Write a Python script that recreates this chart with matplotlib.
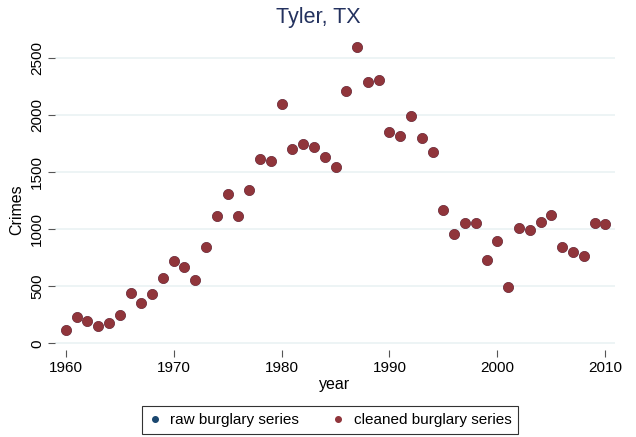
import numpy as np
import matplotlib
matplotlib.use("Agg")
import matplotlib.pyplot as plt

plt.rcParams['font.family'] = ['Liberation Sans', 'DejaVu Sans']

# burglary counts (raw series sits under the cleaned one)
years = list(range(1960, 2011))
cleaned = [119, 233, 198, 149, 180, 248, 443, 355, 429, 574,
           723, 670, 551, 843, 1114, 1304, 1117, 1344, 1613, 1598,
           2091, 1700, 1744, 1718, 1628, 1545, 2210, 2593, 2289, 2307,
           1852, 1817, 1986, 1797, 1677, 1169, 954, 1050, 1050, 729,
           898, 490, 1009, 994, 1061, 1123, 843, 799, 767, 1050,
           1044]
raw = list(cleaned)

yticks = [0, 500, 1000, 1500, 2000, 2500]
xticks = [1960, 1970, 1980, 1990, 2000, 2010]

navy = '#1a476f'
maroon = '#90353b'

fig = plt.figure(figsize=(6.36, 4.37), dpi=100)
ax = fig.add_axes([0.0865, 0.199, 0.881, 0.714])

ax.plot(years, raw, 'o', color=navy, markersize=6.7, label='raw burglary series')
ax.plot(years, cleaned, 'o', color=maroon, markersize=6.7, label='cleaned burglary series')

ax.set_xlim(1959.0, 2010.93)
ax.set_ylim(-59, 2671)
ax.set_yticks(yticks)
ax.set_xticks(xticks)
ax.set_yticklabels([str(v) for v in yticks], rotation=90, va='center', fontsize=11)
ax.set_xticklabels([str(v) for v in xticks], fontsize=11)
ax.tick_params(axis='y', length=5, color='#555555', pad=3)
ax.tick_params(axis='x', length=5, color='#555555', pad=3)

for s in ax.spines.values():
    s.set_visible(False)
ax.grid(axis='y', color='#eaf2f3', linewidth=1.2)
ax.set_axisbelow(True)

fig.text(0.5, 1 - 18 / 437, 'Tyler, TX', ha='center', va='center', fontsize=15.5, color='#24325f')
fig.text(17 / 636, 1 - 210 / 437, 'Crimes', rotation=90, ha='center', va='center', fontsize=11.5)
fig.text(335 / 636, 1 - 385 / 437, 'year', ha='center', va='center', fontsize=11.5)

leg = fig.legend(loc='center', bbox_to_anchor=(330 / 636, 1 - 420 / 437), ncol=2,
                 fontsize=11, markerscale=0.6, frameon=True, fancybox=False,
                 edgecolor='black', handlelength=0.8, handletextpad=0.6,
                 columnspacing=2.2, borderpad=0.45)
leg.get_frame().set_linewidth(0.8)

fig.savefig('out.png', dpi=100, facecolor='white')
